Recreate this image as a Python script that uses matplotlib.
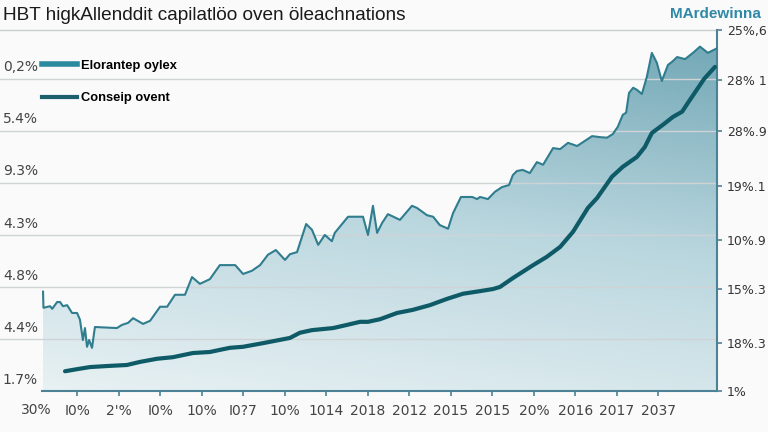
import numpy as np
import matplotlib
matplotlib.use("Agg")
import matplotlib.pyplot as plt
from matplotlib.colors import LinearSegmentedColormap
from matplotlib.lines import Line2D
import matplotlib.transforms as mtransforms

# upper series (thin line, filled)
upper_x = [0.17, 0.18, 0.34, 0.39, 0.51, 0.58, 0.65, 0.75, 0.87, 0.99, 1.06, 1.13, 1.18, 1.23,
           1.28, 1.35, 1.42, 1.95, 2.07, 2.22, 2.34, 2.58, 2.75, 2.99, 3.16, 3.35, 3.59, 3.76,
           3.95, 4.19, 4.43, 4.80, 4.99, 5.20, 5.40, 5.59, 5.78, 6.00, 6.12, 6.29, 6.51, 6.65,
           6.80, 6.96, 7.13, 7.20, 7.52, 7.88, 8.00, 8.12, 8.22, 8.34, 8.48, 8.77, 9.06, 9.18,
           9.42, 9.57, 9.73, 9.93, 10.05, 10.24, 10.51, 10.63, 10.70, 10.89, 11.06, 11.23, 11.40,
           11.49, 11.59, 11.73, 11.90, 12.07, 12.22, 12.46, 12.63, 12.82, 13.04, 13.23, 13.40,
           13.59, 13.76, 13.90, 14.02, 14.14, 14.22, 14.29, 14.39, 14.48, 14.60, 14.72, 14.84,
           14.96, 15.08, 15.23, 15.33, 15.45, 15.64, 15.83, 16.00, 16.19, 16.39]
upper_y = [19.1, 16.0, 16.3, 15.8, 17.1, 17.1, 16.3, 16.5, 15.0, 15.0, 13.7, 9.8, 12.1, 8.5,
           9.8, 8.3, 12.3, 12.1, 12.7, 13.1, 14.0, 12.9, 13.5, 16.2, 16.2, 18.5, 18.5, 21.9,
           20.6, 21.5, 24.2, 24.2, 22.5, 23.1, 24.2, 26.2, 27.1, 25.2, 26.3, 26.7, 32.1, 31.0,
           28.1, 30.0, 28.8, 30.4, 33.5, 33.5, 30.0, 35.6, 30.4, 32.3, 34.0, 32.9, 35.6, 35.2,
           33.8, 33.5, 31.9, 31.2, 34.2, 37.3, 37.3, 36.9, 37.3, 36.9, 38.3, 39.2, 39.6,
           41.5, 42.3, 42.5, 41.9, 44.0, 43.5, 46.7, 46.5, 47.7, 47.1, 48.1, 49.0,
           48.8, 48.7, 49.4, 50.8, 53.1, 53.5, 57.3, 58.3, 57.9, 57.1, 60.4, 65.0,
           63.1, 59.6, 62.7, 63.3, 64.2, 63.8, 65.0, 66.2, 65.0, 65.8]

# lower series (thick line)
lower_x = [0.70, 0.99, 1.30, 1.71, 2.19, 2.51, 2.92, 3.30, 3.78, 4.19, 4.67, 4.99, 5.47, 6.12,
           6.36, 6.65, 7.16, 7.49, 7.81, 8.00, 8.29, 8.70, 9.08, 9.49, 9.90, 10.29, 10.70,
           11.01, 11.18, 11.49, 11.98, 12.31, 12.63, 12.94, 13.30, 13.52, 13.88, 14.14, 14.48,
           14.67, 14.84, 15.11, 15.35, 15.57, 15.71, 16.10, 16.36]
lower_y = [3.8, 4.2, 4.6, 4.8, 5.0, 5.6, 6.2, 6.5, 7.3, 7.5, 8.3, 8.5, 9.2, 10.2,
           11.2, 11.7, 12.1, 12.7, 13.3, 13.3, 13.8, 15.0, 15.6, 16.5, 17.7, 18.7, 19.2,
           19.6, 20.0, 21.7, 24.2, 25.8, 27.7, 30.6, 35.2, 37.1, 41.2, 43.1, 45.0,
           46.9, 49.6, 51.2, 52.7, 53.7, 55.4, 60.0, 62.3]

x_labels = ["30%", "I0%", "2'%", "I0%", "10%", "I0?7", "10%", "1014", "2018", "2012",
            "2015", "2015", "20%", "2016", "2017", "2037"]
left_labels = ["1.7%", "4.4%", "4.8%", "4.3%", "9.3%", "5.4%", "0,2%"]
right_pos = [0, 9.2, 19.6, 29, 39.4, 50, 59.8, 69.4]
right_labels = ["1%", "18%.3", "15%.3", "10%.9", "19%.1", "28%.9", "28% 1", "25%,6"]
series_names = ["Elorantep oylex", "Conseip ovent"]

XMIN, XMAX, YTOP = 0.145, 16.41, 69.4
spine_c = "#4d8196"

fig = plt.figure(figsize=(7.68, 4.32), dpi=100, facecolor="#fafafa")
ax = fig.add_axes([42 / 768, 41 / 432, 675 / 768, 361 / 432])
ax.set_facecolor("none")
ax.set_xlim(XMIN, XMAX)
ax.set_ylim(0, YTOP)

# gradient fill under the upper line
poly = ax.fill_between(upper_x, upper_y, 0, facecolor="none", edgecolor="none")
gx, gy = np.meshgrid(np.linspace(0, 1, 200), np.linspace(0, 1, 200))
grad = gy * 0.8 + gx * 0.2
cmap = LinearSegmentedColormap.from_list("tealfade", ["#e8f1f3", "#b9d6de", "#6fa5b4"])
img = ax.imshow(grad, extent=[XMIN, XMAX, 0, YTOP], origin="lower", aspect="auto",
                cmap=cmap, zorder=1)
img.set_clip_path(poly.get_paths()[0], transform=ax.transData)

# gridlines reaching out to the left edge
blend = mtransforms.blended_transform_factory(ax.transAxes, ax.transData)
for g in [10, 20, 30, 40, 50, 60]:
    ax.plot([-0.062, 1], [g, g], color="#cfd3d5", lw=1, transform=blend, clip_on=False, zorder=2)
ax.plot([-0.062, 1], [YTOP, YTOP], color="#c9cdcf", lw=1, transform=blend, clip_on=False, zorder=2)

ax.plot(upper_x, upper_y, color="#2f7d8e", lw=1.5, zorder=3)
ax.plot(lower_x, lower_y, color="#0e5b67", lw=3, zorder=4, solid_capstyle="round")

# left labels sit above the gridlines
for i, lab in enumerate(left_labels):
    ax.text(-0.058, i * 10 + 2.2, lab, transform=blend, ha="left", va="center",
            fontsize=10, color="#444444")

# spines and ticks
for s in ["left", "top"]:
    ax.spines[s].set_visible(False)
for s in ["bottom", "right"]:
    ax.spines[s].set_color(spine_c)
    ax.spines[s].set_linewidth(1.5)
ax.set_xticks(range(1, len(x_labels)), x_labels[1:])
ax.tick_params(axis="x", length=3.6, width=1.2, color=spine_c, pad=5.5,
               labelsize=10, labelcolor="#444444")
ax.text(0, -0.052, x_labels[0], transform=mtransforms.blended_transform_factory(ax.transData, ax.transAxes),
        ha="center", va="center", fontsize=10, color="#444444")
ax.yaxis.set_ticks_position("right")
ax.set_yticks(right_pos, right_labels)
ax.tick_params(axis="y", length=3.6, width=1.2, color=spine_c, pad=3.5,
               labelsize=9, labelcolor="#333333")

# legend
handles = [Line2D([], [], color="#2a8a9e", lw=4), Line2D([], [], color="#1d5f6d", lw=3)]
ax.legend(handles, series_names, loc="upper left", bbox_to_anchor=(0, 0.917), frameon=False,
          borderaxespad=0, borderpad=0, handlelength=2.7, handletextpad=0.3, labelspacing=1.55,
          prop={"family": "Liberation Sans", "size": 9.3, "weight": "bold"})

fig.text(3 / 768, 1 - 15 / 432, "HBT higkAllenddit capilatlöo oven öleachnations",
         fontsize=13.7, family="Liberation Sans", color="#1a1a1a", ha="left", va="center")
fig.text(670 / 768, 1 - 14 / 432, "MArdewinna", fontsize=11, family="Liberation Sans",
         weight="bold", color="#2f89a6", ha="left", va="center")

fig.savefig("out.png", dpi=100, facecolor=fig.get_facecolor())
